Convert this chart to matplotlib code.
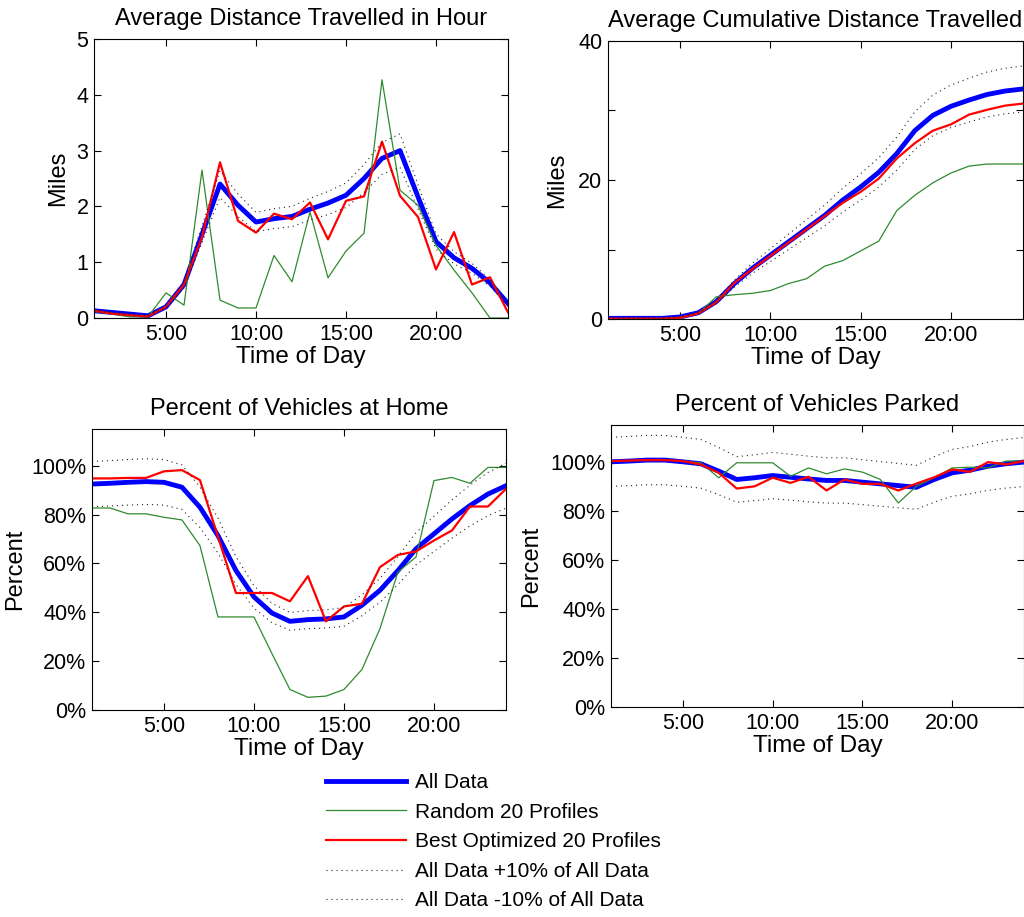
import numpy as np
import matplotlib
matplotlib.use('Agg')
import matplotlib.pyplot as plt

plt.rcParams['font.family'] = ['Liberation Sans', 'DejaVu Sans']

# hora del dia
horas = np.arange(1, 25)
ticks_x = [5, 10, 15, 20]
etiquetas_x = ['5:00', '10:00', '15:00', '20:00']

# distancia media por hora (millas)
dist_todos = [0.13, 0.10, 0.07, 0.04, 0.20, 0.60, 1.50, 2.40, 2.02, 1.72, 1.78, 1.82,
              1.95, 2.06, 2.20, 2.50, 2.86, 3.00, 2.17, 1.37, 1.08, 0.89, 0.63, 0.26]
dist_random = [0.12, 0.07, 0.02, 0.02, 0.45, 0.23, 2.65, 0.32, 0.18, 0.18, 1.12, 0.65,
               1.90, 0.72, 1.20, 1.52, 4.27, 2.29, 2.02, 1.30, 0.86, 0.45, 0.00, 0.00]
dist_mejor = [0.13, 0.08, 0.05, 0.03, 0.20, 0.60, 1.45, 2.79, 1.74, 1.53, 1.87, 1.77,
              2.07, 1.41, 2.10, 2.18, 3.16, 2.19, 1.81, 0.87, 1.54, 0.60, 0.73, 0.10]

# distancia acumulada (millas)
acum_todos = [0.1, 0.1, 0.1, 0.1, 0.3, 0.9, 2.5, 5.1, 7.3, 9.2, 11.1, 13.0,
              14.9, 17.1, 19.0, 21.1, 23.8, 27.1, 29.3, 30.6, 31.5, 32.3, 32.8, 33.1]
acum_random = [0.0, 0.0, 0.0, 0.0, 0.1, 0.8, 3.2, 3.5, 3.7, 4.1, 5.1, 5.8,
               7.6, 8.4, 9.8, 11.2, 15.6, 17.8, 19.6, 21.0, 22.0, 22.3, 22.3, 22.3]
acum_mejor = [0.05, 0.05, 0.05, 0.05, 0.2, 0.8, 2.4, 5.2, 7.2, 9.1, 11.0, 12.9,
              14.8, 16.7, 18.3, 20.2, 23.1, 25.3, 27.1, 28.0, 29.4, 30.1, 30.7, 31.0]

# porcentaje de vehiculos en casa
casa_todos = [92.5, 92.8, 93.2, 93.5, 93.2, 91.2, 83.0, 71.4, 57.1, 46.3, 39.7, 36.3,
              37.0, 37.3, 38.1, 42.9, 49.0, 57.1, 66.0, 72.1, 78.2, 83.7, 88.4, 91.8]
casa_random = [82.7, 82.7, 80.3, 80.3, 78.9, 77.8, 67.3, 38.1, 38.1, 38.1, 23.1, 8.4,
               5.2, 5.7, 8.4, 16.6, 33.3, 56.5, 62.6, 93.9, 95.2, 92.8, 99.3, 99.3]
casa_mejor = [94.8, 94.8, 95.0, 95.0, 97.7, 98.2, 94.1, 71.0, 47.9, 47.9, 47.9, 44.5,
              54.8, 36.3, 42.4, 43.5, 58.5, 63.5, 64.9, 69.4, 73.5, 83.3, 83.3, 90.5]

# porcentaje de vehiculos estacionados
parq_todos = [100.0, 100.3, 100.7, 100.7, 100.0, 99.2, 96.2, 92.8, 93.5, 94.4, 93.7, 93.0,
              92.4, 92.4, 91.7, 91.0, 90.3, 89.6, 92.8, 95.5, 96.6, 98.2, 99.2, 99.9]
parq_random = [100.3, 100.5, 100.7, 100.7, 100.3, 99.6, 93.5, 99.6, 99.6, 99.6, 94.1, 97.5,
               95.1, 97.1, 95.8, 92.8, 83.2, 90.0, 93.5, 97.5, 97.8, 97.5, 100.3, 100.3]
parq_mejor = [100.3, 100.5, 100.7, 100.7, 100.3, 98.9, 95.5, 89.1, 90.0, 93.5, 91.4, 93.9,
              88.3, 92.8, 91.0, 91.0, 88.3, 91.1, 93.7, 96.9, 95.9, 99.9, 98.9, 100.3]

etiquetas = ['All Data', 'Random 20 Profiles', 'Best Optimized 20 Profiles',
             'All Data +10% of All Data', 'All Data -10% of All Data']

verde = '#2f8a2f'
punteado = (0, (1, 3.5))

fig = plt.figure(figsize=(10.24, 9.17), dpi=100)

paneles = [
    # (posicion, titulo, ylabel, datos, ylim, yticks, yticklabels, pos ylabel)
    ([0.0918, 0.6532, 0.4043, 0.3043], 'Average Distance Travelled in Hour', 'Miles',
     (dist_todos, dist_random, dist_mejor), (0, 5), [0, 1, 2, 3, 4, 5],
     ['0', '1', '2', '3', '4', '5'], -0.06),
    ([0.5938, 0.6521, 0.4053, 0.3032], 'Average Cumulative Distance Travelled', 'Miles',
     (acum_todos, acum_random, acum_mejor), (0, 40), [0, 10, 20, 30, 40],
     ['0', '', '20', '', '40'], -0.095),
    ([0.0898, 0.2257, 0.4043, 0.3064], 'Percent of Vehicles at Home', 'Percent',
     (casa_todos, casa_random, casa_mejor), (0, 115), [0, 20, 40, 60, 80, 100],
     ['0%', '20%', '40%', '60%', '80%', '100%'], -0.16),
    ([0.5967, 0.2290, 0.4033, 0.3075], 'Percent of Vehicles Parked', 'Percent',
     (parq_todos, parq_random, parq_mejor), (0, 115), [0, 20, 40, 60, 80, 100],
     ['0%', '20%', '40%', '60%', '80%', '100%'], -0.167),
]

for pos, titulo, ylab, (todos, rnd, mejor), ylim, yt, ytl, xlab_pos in paneles:
    ax = fig.add_axes(pos)
    todos = np.array(todos)
    l1, = ax.plot(horas, todos, color='#0000ff', lw=3.5)
    l2, = ax.plot(horas, rnd, color=verde, lw=0.9)
    l3, = ax.plot(horas, mejor, color='#ff0000', lw=1.6)
    # bandas de +/-10% de todos los datos
    l4, = ax.plot(horas, todos * 1.1, color='#222222', lw=0.8, linestyle=punteado)
    l5, = ax.plot(horas, todos * 0.9, color='#222222', lw=0.8, linestyle=punteado)
    ax.set_xlim(1, 24)
    ax.set_ylim(*ylim)
    ax.set_xticks(ticks_x)
    ax.set_xticklabels(etiquetas_x)
    ax.set_yticks(yt)
    ax.set_yticklabels(ytl)
    ax.tick_params(direction='in', length=5, width=0.8, top=True, right=True,
                   labelsize=15.5, pad=4)
    ax.set_title(titulo, fontsize=17, pad=10)
    ax.set_xlabel('Time of Day', fontsize=17.5, labelpad=1)
    ax.set_ylabel(ylab, fontsize=17)
    ax.yaxis.set_label_coords(xlab_pos, 0.5)
    for s in ax.spines.values():
        s.set_linewidth(0.8)
    lineas = [l1, l2, l3, l4, l5]

fig.legend(lineas, etiquetas, loc='upper left', bbox_to_anchor=(326 / 1024, 1 - 773 / 917),
           frameon=False, fontsize=15, handlelength=3.85, handletextpad=0.4,
           labelspacing=0.51, borderpad=0, borderaxespad=0)

plt.savefig('out.png', dpi=100)
